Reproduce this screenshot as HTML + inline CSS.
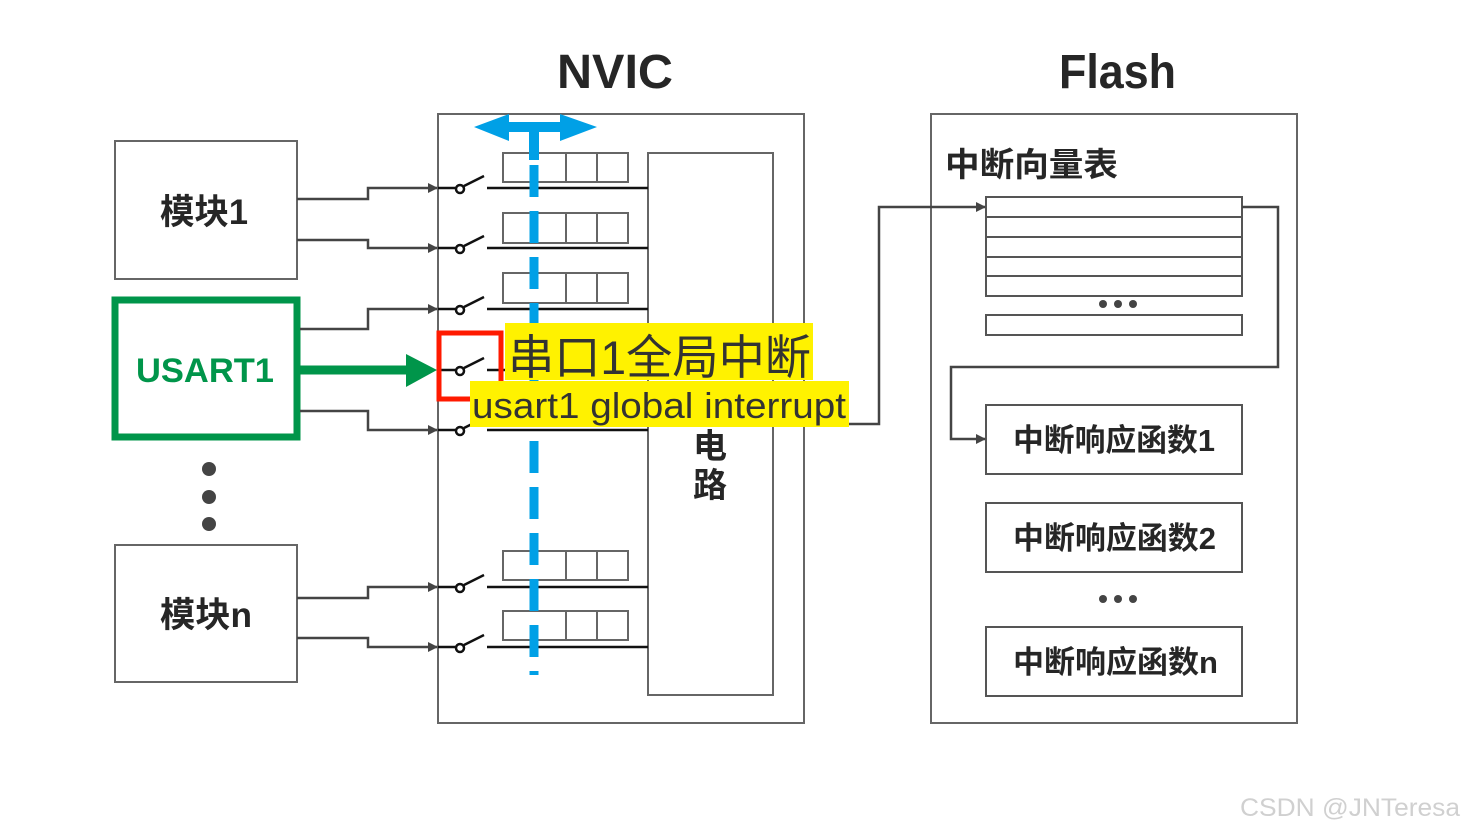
<!DOCTYPE html>
<html><head><meta charset="utf-8"><style>
html,body{margin:0;padding:0;background:#fff;}
svg{display:block;}
text{font-family:"Liberation Sans","Noto Sans CJK SC",sans-serif;}
</style></head><body>
<svg width="1465" height="833" viewBox="0 0 1465 833" xmlns="http://www.w3.org/2000/svg">
<defs>
<marker id="ah" markerWidth="10" markerHeight="10" refX="9" refY="5" orient="auto" markerUnits="userSpaceOnUse">
<path d="M0,0 L10,5 L0,10 z" fill="#444"/></marker>
</defs>
<rect width="1465" height="833" fill="#fff"/>
<text x="557" y="88" font-size="48" font-weight="bold" fill="#262626" textLength="116" lengthAdjust="spacingAndGlyphs">NVIC</text>
<text x="1059" y="88" font-size="48" font-weight="bold" fill="#262626" textLength="117" lengthAdjust="spacingAndGlyphs">Flash</text>

<rect x="438" y="114" width="366" height="609" fill="none" stroke="#666" stroke-width="2"/>
<rect x="648" y="153" width="125" height="542" fill="none" stroke="#666" stroke-width="2"/>
<text x="710" y="458" font-size="34" font-weight="bold" text-anchor="middle" fill="#262626">电</text>
<text x="710" y="497" font-size="34" font-weight="bold" text-anchor="middle" fill="#262626">路</text>

<g fill="none" stroke="#666" stroke-width="2">
<rect x="503" y="153" width="125" height="29"/><path d="M566 153V182M597 153V182"/>
<rect x="503" y="213" width="125" height="30"/><path d="M566 213V243M597 213V243"/>
<rect x="503" y="273" width="125" height="30"/><path d="M566 273V303M597 273V303"/>
<rect x="503" y="551" width="125" height="29"/><path d="M566 551V580M597 551V580"/>
<rect x="503" y="611" width="125" height="29"/><path d="M566 611V640M597 611V640"/>
</g>

<g stroke="#111" stroke-width="2.5" fill="#fff">
<path d="M438 188H456M464 186L484 176M487 188H648"/><circle cx="460" cy="189" r="4"/>
<path d="M438 248H456M464 246L484 236M487 248H648"/><circle cx="460" cy="249" r="4"/>
<path d="M438 309H456M464 307L484 297M487 309H648"/><circle cx="460" cy="310" r="4"/>
<path d="M438 370H456M464 368L484 358M487 370H648"/><circle cx="460" cy="371" r="4"/>
<path d="M438 430H456M464 428L484 418M487 430H648"/><circle cx="460" cy="431" r="4"/>
<path d="M438 587H456M464 585L484 575M487 587H648"/><circle cx="460" cy="588" r="4"/>
<path d="M438 647H456M464 645L484 635M487 647H648"/><circle cx="460" cy="648" r="4"/>
</g>

<line x1="534" y1="165" x2="534" y2="675" stroke="#00a0e6" stroke-width="9" stroke-dasharray="32,14"/>
<rect x="529" y="125" width="10" height="35" fill="#00a0e6"/>
<path d="M474 127 L509 114 L509 122 L560 122 L560 114 L597 127 L560 141 L560 132 L509 132 L509 141 z" fill="#00a0e6"/>

<rect x="115" y="141" width="182" height="138" fill="#fff" stroke="#666" stroke-width="2"/>
<text x="160" y="224" font-size="35" font-weight="bold" fill="#262626" textLength="88" lengthAdjust="spacingAndGlyphs">模块1</text>
<rect x="115" y="545" width="182" height="137" fill="#fff" stroke="#666" stroke-width="2"/>
<text x="160" y="627" font-size="35" font-weight="bold" fill="#262626" textLength="92" lengthAdjust="spacingAndGlyphs">模块n</text>
<rect x="115" y="300" width="182" height="137" fill="#fff" stroke="#00954a" stroke-width="7"/>
<text x="136" y="382" font-size="34" font-weight="bold" fill="#00954a" textLength="138" lengthAdjust="spacingAndGlyphs">USART1</text>
<circle cx="209" cy="469" r="7" fill="#444"/><circle cx="209" cy="497" r="7" fill="#444"/><circle cx="209" cy="524" r="7" fill="#444"/>

<g stroke="#444" stroke-width="2.5" fill="none" marker-end="url(#ah)">
<path d="M297 199H368V188H437"/>
<path d="M297 240H368V248H437"/>
<path d="M300 329H368V309H437"/>
<path d="M300 411H368V430H437"/>
<path d="M297 598H368V587H437"/>
<path d="M297 638H368V647H437"/>
</g>
<line x1="300" y1="370" x2="410" y2="370" stroke="#00954a" stroke-width="9"/>
<path d="M406 354 L437 370 L406 387 z" fill="#00954a"/>

<rect x="439" y="333" width="62" height="66" fill="none" stroke="#ff1a00" stroke-width="5"/>

<rect x="505" y="323" width="308" height="57" fill="#fff200"/>
<text x="508" y="374" font-size="47" fill="#333" textLength="303" lengthAdjust="spacingAndGlyphs">串口1全局中断</text>
<rect x="470" y="381" width="379" height="46" fill="#fff200"/>
<text x="472" y="418" font-size="36" fill="#333" textLength="374" lengthAdjust="spacingAndGlyphs">usart1 global interrupt</text>

<rect x="931" y="114" width="366" height="609" fill="none" stroke="#666" stroke-width="2"/>
<text x="945" y="176" font-size="33" font-weight="bold" fill="#262626" textLength="173" lengthAdjust="spacingAndGlyphs">中断向量表</text>
<g fill="none" stroke="#555" stroke-width="2">
<rect x="986" y="197" width="256" height="99"/>
<path d="M986 217H1242M986 237H1242M986 257H1242M986 276H1242"/>
<rect x="986" y="315" width="256" height="20"/>
<rect x="986" y="405" width="256" height="69"/>
<rect x="986" y="503" width="256" height="69"/>
<rect x="986" y="627" width="256" height="69"/>
</g>
<circle cx="1103" cy="304" r="4" fill="#444"/><circle cx="1118" cy="304" r="4" fill="#444"/><circle cx="1133" cy="304" r="4" fill="#444"/>
<circle cx="1103" cy="599" r="4" fill="#444"/><circle cx="1118" cy="599" r="4" fill="#444"/><circle cx="1133" cy="599" r="4" fill="#444"/>
<text x="1013" y="451" font-size="31" font-weight="bold" fill="#262626" textLength="202" lengthAdjust="spacingAndGlyphs">中断响应函数1</text>
<text x="1013" y="549" font-size="31" font-weight="bold" fill="#262626" textLength="203" lengthAdjust="spacingAndGlyphs">中断响应函数2</text>
<text x="1013" y="673" font-size="31" font-weight="bold" fill="#262626" textLength="205" lengthAdjust="spacingAndGlyphs">中断响应函数n</text>
<g stroke="#444" stroke-width="2.5" fill="none">
<path d="M849 424H879V207H985" marker-end="url(#ah)"/>
<path d="M1242 207H1278V367H951V439H985" marker-end="url(#ah)"/>
</g>

<text x="1240" y="816" font-size="25" fill="#d0d0d0" textLength="220" lengthAdjust="spacingAndGlyphs">CSDN @JNTeresa</text>
</svg>
</body></html>
